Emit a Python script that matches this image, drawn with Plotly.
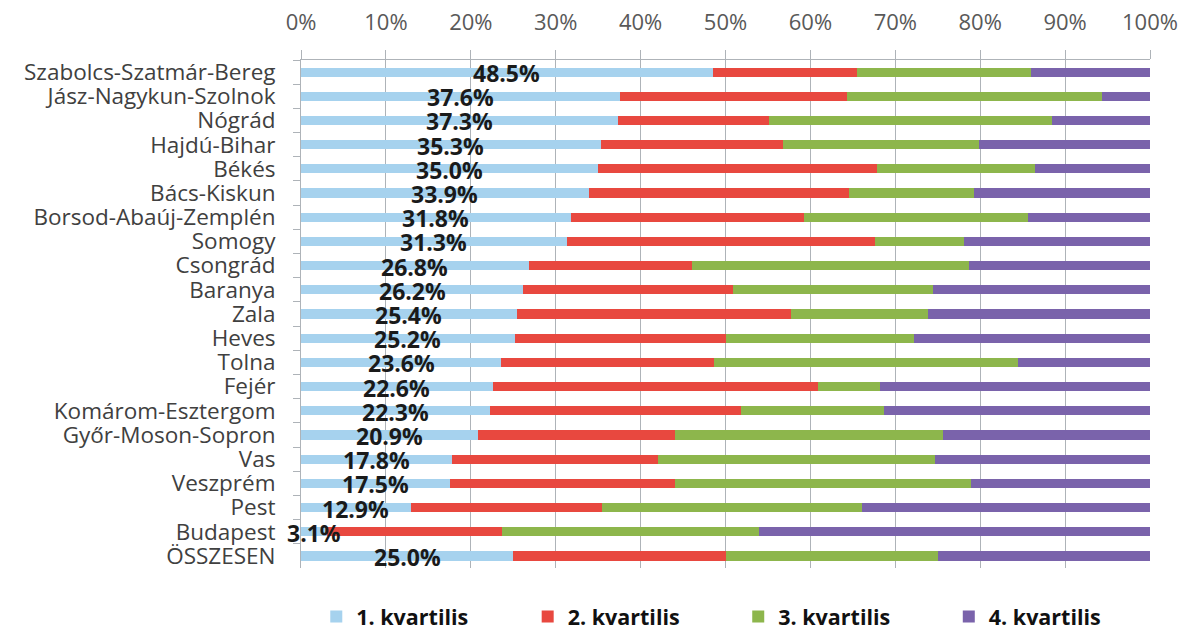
import plotly.graph_objects as go

# Counties (top to bottom) and the share of each income quartile, in percent
counties = [
    "Szabolcs-Szatmár-Bereg", "Jász-Nagykun-Szolnok", "Nógrád", "Hajdú-Bihar",
    "Békés", "Bács-Kiskun", "Borsod-Abaúj-Zemplén", "Somogy", "Csongrád",
    "Baranya", "Zala", "Heves", "Tolna", "Fejér", "Komárom-Esztergom",
    "Győr-Moson-Sopron", "Vas", "Veszprém", "Pest", "Budapest", "ÖSSZESEN",
]
q1 = [48.5, 37.6, 37.3, 35.3, 35.0, 33.9, 31.8, 31.3, 26.8, 26.2, 25.4,
      25.2, 23.6, 22.6, 22.3, 20.9, 17.8, 17.5, 12.9, 3.1, 25.0]
q2 = [17.0, 26.7, 17.8, 21.5, 32.8, 30.7, 27.4, 36.3, 19.3, 24.7, 32.3,
      24.8, 25.1, 38.3, 29.5, 23.2, 24.2, 26.5, 22.5, 20.6, 25.0]
q3 = [20.5, 30.0, 33.4, 23.0, 18.7, 14.7, 26.4, 10.5, 32.6, 23.5, 16.1,
      22.2, 35.8, 7.3, 16.9, 31.5, 32.7, 34.9, 30.7, 30.2, 25.0]
q4 = [round(100 - a - b - c, 1) for a, b, c in zip(q1, q2, q3)]

series_names = ["1. kvartilis", "2. kvartilis", "3. kvartilis", "4. kvartilis"]
series_colors = ["#a6d2ee", "#e8483f", "#8db64c", "#7a63ab"]
x_ticks = list(range(0, 101, 10))

# one legend box per series, spread along the bottom (paper x of each box)
legend_ids = ["legend", "legend2", "legend3", "legend4"]
legend_x = [0.018, 0.267, 0.515, 0.763]

FONT = "Open Sans"
GRID = "#aeb3b8"

fig = go.Figure()
for name, vals, color, lid in zip(series_names, [q1, q2, q3, q4],
                                  series_colors, legend_ids):
    fig.add_trace(go.Bar(
        y=counties, x=vals, name=name, orientation="h",
        marker=dict(color=color, line=dict(width=0)),
        hoverinfo="skip", legend=lid,
    ))

# First-quartile value written at the middle of its segment
for county, v in zip(counties, q1):
    fig.add_annotation(
        x=v / 2, y=county, xref="x", yref="y",
        text=f"{v:.1f}%", showarrow=False,
        xanchor="center", yanchor="middle", yshift=-1,
        font=dict(family=FONT, size=23, color="#1a1a1a", weight="bold"),
    )

legend_style = dict(
    orientation="h", y=-0.055, xanchor="left", yanchor="top",
    bgcolor="rgba(0,0,0,0)",
    font=dict(family=FONT, size=21.5, color="#111111", weight="bold"),
)

fig.update_layout(
    width=1186, height=634,
    barmode="stack", bargap=0.62,
    plot_bgcolor="white", paper_bgcolor="white",
    margin=dict(l=301, r=36, t=60, b=66, autoexpand=False),
    font=dict(family=FONT),
    showlegend=True,
    xaxis=dict(
        side="top", range=[0, 100], tickvals=x_ticks,
        ticktext=[f"{t}%" for t in x_ticks],
        showgrid=True, gridcolor=GRID, gridwidth=1,
        showline=True, linecolor=GRID, linewidth=1,
        ticks="outside", ticklen=9, tickcolor=GRID,
        ticklabelstandoff=11, automargin=False,
        tickfont=dict(family=FONT, size=22, color="#595959"),
        zeroline=False, fixedrange=True,
    ),
    yaxis=dict(
        range=[len(counties) - 0.5, -0.5], type="category", dtick=1,
        showline=True, linecolor=GRID, linewidth=1,
        ticks="outside", ticklen=7, tickcolor=GRID, tickson="boundaries",
        ticklabelstandoff=20, automargin=False,
        tickfont=dict(family=FONT, size=22.5, color="#404040"),
        showgrid=False, fixedrange=True,
    ),
)
for lid, lx in zip(legend_ids, legend_x):
    fig.update_layout({lid: dict(legend_style, x=lx)})

fig.write_html("out.html")
